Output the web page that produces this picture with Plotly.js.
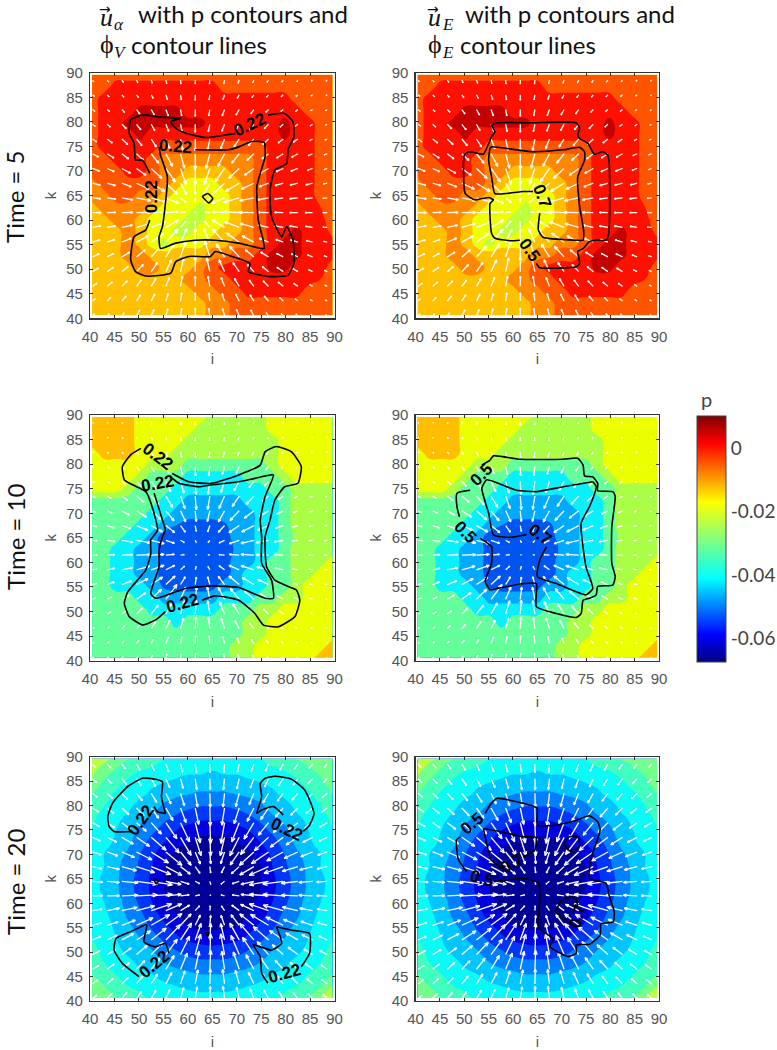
<!DOCTYPE html>
<html>
<head>
<meta charset="utf-8">
<script src="https://cdn.plot.ly/plotly-3.0.1.min.js"></script>
<style>body{margin:0;background:#fff}</style>
</head>
<body>
<div id="chart" style="width:777px;height:1050px"></div>
<script>
// p field, 1/1000 units, rows top to bottom (both columns share it)
var pT5 = [
[-2,-2,-2,-2,-2,-2,-2,-2,-2,-2,-2,-2,-2,-2,-2,-2,-2,-2,-2,-2,-2],
[-2,-2,2,2,2,2,2,2,2,2,2,-2,-2,-2,-2,-2,-2,-2,-2,-2,-2],
[-2,2,2,2,2,2,2,2,2,2,2,2,2,2,2,2,2,-2,-2,-2,-2],
[-2,2,2,2,7,7,7,7,2,2,2,2,2,2,2,2,2,2,-2,-2,-2],
[-2,2,2,7,7,7,7,7,7,7,2,2,2,2,2,2,7,2,2,-2,-2],
[-2,2,2,2,7,2,2,2,2,2,2,2,2,2,2,2,7,2,2,-2,-2],
[-2,2,2,2,2,2,-2,-2,-2,-2,-2,-2,-2,-2,-2,2,2,2,2,-2,-2],
[-2,-2,2,2,2,-2,-7,-7,-7,-7,-7,-7,-7,-7,-2,2,2,2,2,-2,-2],
[-2,-2,-2,2,2,-2,-7,-7,-12,-12,-12,-12,-7,-7,-2,2,2,2,2,-2,-2],
[-7,-2,-2,-2,-2,-2,-7,-12,-17,-17,-17,-12,-12,-7,-2,2,2,2,2,-2,-2],
[-7,-7,-2,-2,-7,-7,-12,-17,-17,-17,-17,-17,-12,-7,-2,2,2,2,2,-2,-2],
[-12,-7,-7,-7,-7,-12,-17,-17,-17,-22,-17,-17,-12,-7,-2,2,2,2,2,0,-2],
[-12,-12,-7,-7,-12,-17,-17,-17,-22,-22,-17,-17,-12,-7,-2,2,2,2,2,1,-2],
[-12,-12,-12,-7,-12,-17,-17,-22,-22,-17,-17,-12,-12,-7,-2,2,2,7,2,2,-1],
[-12,-12,-12,-7,-12,-17,-22,-17,-17,-17,-12,-12,-7,-7,-2,2,7,7,2,2,1],
[-12,-12,-12,-7,-7,-12,-12,-12,-12,-12,-7,-7,-2,-2,2,7,7,7,2,2,1],
[-12,-12,-12,-12,-7,-7,-12,-12,-12,-7,-2,2,2,2,2,7,7,2,2,2,-2],
[-12,-12,-12,-12,-12,-12,-12,-12,-7,-7,-2,-2,2,2,2,2,2,2,2,0,-2],
[-12,-12,-12,-12,-12,-12,-12,-12,-12,-7,-7,-2,-2,2,2,2,2,2,-2,-2,-2],
[-12,-12,-12,-12,-12,-12,-12,-12,-12,-12,-7,-7,-2,-2,-2,-2,-2,-2,-2,-2,-2],
[-12,-12,-12,-12,-12,-12,-12,-12,-12,-12,-7,-7,-2,-2,-2,-2,-2,-2,-2,-2,-2]
];
var pT10 = [
[-14,-14,-14,-14,-20,-20,-20,-20,-20,-20,-26,-26,-26,-26,-26,-20,-20,-20,-20,-20,-20],
[-14,-14,-14,-14,-20,-20,-20,-20,-20,-26,-26,-26,-26,-26,-26,-20,-20,-20,-20,-20,-20],
[-14,-14,-14,-14,-20,-20,-20,-20,-26,-26,-26,-26,-26,-26,-26,-26,-20,-20,-20,-20,-20],
[-20,-14,-14,-14,-20,-20,-20,-26,-26,-26,-26,-26,-26,-26,-26,-26,-20,-20,-20,-20,-20],
[-20,-20,-20,-20,-20,-26,-26,-26,-32,-32,-32,-32,-32,-32,-32,-26,-20,-20,-20,-20,-20],
[-20,-20,-20,-20,-26,-32,-32,-32,-38,-38,-38,-38,-38,-32,-32,-32,-26,-20,-20,-20,-20],
[-20,-20,-20,-26,-32,-32,-32,-38,-38,-38,-38,-38,-38,-38,-38,-32,-32,-26,-26,-26,-26],
[-32,-32,-32,-32,-32,-32,-38,-38,-44,-44,-44,-44,-44,-38,-38,-38,-32,-26,-26,-26,-26],
[-32,-32,-32,-32,-32,-38,-38,-44,-44,-44,-44,-44,-44,-44,-38,-38,-32,-26,-26,-26,-26],
[-32,-32,-32,-32,-38,-38,-44,-47,-50,-50,-50,-48,-44,-44,-38,-38,-32,-26,-26,-26,-26],
[-32,-32,-32,-38,-38,-44,-50,-50,-50,-50,-50,-50,-44,-44,-38,-38,-32,-28,-26,-26,-26],
[-32,-32,-38,-38,-44,-44,-50,-50,-50,-50,-50,-50,-46,-44,-38,-38,-32,-26,-26,-26,-26],
[-32,-32,-38,-38,-44,-44,-50,-50,-50,-50,-50,-50,-44,-44,-38,-32,-32,-26,-26,-26,-20],
[-32,-32,-38,-38,-44,-44,-50,-50,-50,-50,-50,-50,-44,-38,-38,-32,-32,-26,-26,-20,-20],
[-32,-32,-38,-38,-38,-44,-48,-50,-50,-50,-49,-44,-44,-38,-38,-32,-32,-26,-20,-20,-20],
[-32,-32,-32,-32,-38,-38,-44,-44,-44,-44,-44,-38,-38,-38,-32,-32,-26,-26,-20,-20,-20],
[-32,-32,-32,-32,-32,-38,-38,-38,-38,-38,-38,-32,-32,-32,-26,-26,-20,-20,-20,-20,-20],
[-32,-32,-32,-32,-32,-32,-32,-38,-32,-32,-32,-32,-32,-26,-26,-20,-20,-20,-20,-20,-20],
[-32,-32,-32,-32,-32,-32,-32,-32,-32,-32,-32,-32,-32,-26,-26,-20,-20,-20,-20,-20,-20],
[-32,-32,-32,-32,-32,-32,-32,-32,-32,-32,-32,-32,-26,-26,-20,-20,-20,-20,-20,-20,-14],
[-32,-32,-32,-32,-32,-32,-32,-32,-32,-32,-32,-32,-26,-26,-20,-20,-20,-20,-20,-14,-14]
];
var pT20 = [
[-22,-24,-26,-30,-31,-33,-35,-36,-36,-37,-37,-37,-36,-36,-35,-33,-31,-30,-28,-27,-26],
[-24,-27,-31,-33,-35,-36,-37,-38,-39,-39,-40,-39,-39,-38,-37,-36,-35,-33,-31,-29,-27],
[-26,-31,-33,-36,-38,-39,-40,-41,-42,-42,-42,-42,-42,-41,-40,-39,-38,-36,-33,-31,-28],
[-30,-33,-36,-37,-39,-41,-43,-44,-45,-46,-46,-46,-45,-44,-43,-41,-39,-37,-36,-33,-30],
[-32,-35,-37,-39,-42,-43,-46,-48,-49,-50,-50,-50,-49,-48,-46,-43,-42,-39,-37,-35,-32],
[-34,-37,-39,-41,-44,-46,-49,-51,-53,-54,-54,-54,-53,-51,-49,-46,-44,-41,-39,-37,-34],
[-35,-38,-40,-43,-46,-49,-52,-55,-57,-59,-59,-59,-57,-55,-52,-49,-46,-43,-40,-38,-35],
[-36,-38,-41,-44,-48,-52,-55,-59,-60,-61,-61,-61,-60,-59,-55,-52,-48,-44,-41,-38,-36],
[-37,-40,-43,-46,-50,-54,-58,-61,-62,-62,-63,-62,-62,-61,-58,-54,-50,-46,-43,-40,-37],
[-38,-40,-44,-47,-51,-55,-60,-61,-63,-64,-64,-64,-63,-61,-60,-55,-51,-47,-44,-40,-38],
[-38,-41,-44,-48,-52,-56,-60,-62,-63,-64,-65,-64,-63,-62,-60,-56,-52,-48,-44,-41,-38],
[-38,-41,-44,-48,-52,-56,-60,-62,-63,-64,-65,-64,-63,-62,-60,-56,-52,-48,-44,-41,-38],
[-38,-40,-43,-47,-51,-55,-59,-61,-62,-63,-64,-63,-62,-61,-59,-55,-51,-47,-43,-40,-38],
[-37,-39,-42,-46,-49,-53,-57,-60,-61,-62,-62,-62,-61,-60,-57,-53,-49,-46,-42,-39,-37],
[-36,-38,-41,-44,-47,-51,-54,-57,-60,-61,-61,-61,-60,-57,-54,-51,-47,-44,-41,-38,-36],
[-35,-38,-40,-42,-45,-48,-51,-54,-56,-57,-58,-57,-56,-54,-51,-48,-45,-42,-40,-38,-35],
[-34,-36,-39,-41,-43,-45,-48,-50,-52,-53,-53,-53,-52,-50,-48,-45,-43,-41,-39,-36,-34],
[-32,-35,-37,-39,-41,-43,-45,-47,-48,-49,-49,-49,-48,-47,-45,-43,-41,-39,-37,-35,-32],
[-30,-32,-35,-37,-39,-40,-42,-43,-44,-45,-45,-45,-44,-43,-42,-40,-39,-37,-35,-32,-30],
[-27,-30,-33,-35,-36,-38,-39,-40,-41,-41,-41,-41,-41,-40,-39,-38,-36,-35,-33,-30,-25],
[-27,-28,-30,-32,-34,-36,-37,-38,-38,-39,-39,-39,-38,-38,-37,-36,-34,-32,-30,-25,-22]
];

// band edges and colours of the filled contours
var startT5 = -25, sizeT5 = 5;
var bandsT5 = ['rgb(190,255,60)','rgb(240,255,0)','rgb(255,192,0)','rgb(255,136,0)','rgb(255,85,0)','rgb(255,16,0)','rgb(196,0,0)'];
var startT10 = -53, sizeT10 = 6;
var bandsT10 = ['rgb(0,85,240)','rgb(0,170,255)','rgb(10,240,250)','rgb(100,255,155)','rgb(170,255,70)','rgb(235,255,0)','rgb(255,190,0)'];
var startT20 = -65, sizeT20 = 5;
var bandsT20 = ['rgb(0,0,150)','rgb(0,0,225)','rgb(0,54,250)','rgb(0,128,255)','rgb(0,198,255)','rgb(10,250,245)','rgb(64,255,190)','rgb(115,255,140)','rgb(190,255,60)'];

// velocity, tenths of an axis unit, rows top to bottom on the 3-unit arrow grid
var uT5 = [
[3,4,4,3,3,2,1,0,-1,-2,-3,-3,-4,-4,-3,-3,-3],
[5,5,5,5,5,4,2,0,-2,-4,-5,-5,-5,-5,-5,-4,-3],
[6,6,7,8,8,6,3,0,-3,-6,-8,-8,-7,-6,-6,-5,-4],
[7,8,11,11,9,7,4,0,-4,-7,-9,-11,-11,-8,-7,-6,-5],
[10,13,15,14,13,10,6,0,-6,-10,-13,-14,-15,-13,-12,-7,-6],
[15,17,17,18,19,17,10,0,-10,-17,-19,-18,-17,-17,-16,-11,-8],
[18,18,22,24,27,24,14,0,-14,-24,-27,-24,-22,-18,-18,-13,-8],
[20,21,24,32,35,30,16,0,-16,-30,-35,-32,-24,-21,-20,-17,-10],
[21,22,28,36,40,32,14,0,-14,-32,-40,-36,-28,-22,-21,-19,-11],
[21,22,28,36,40,32,12,0,-12,-32,-40,-38,-28,-22,-21,-19,-11],
[21,22,27,35,38,32,14,0,-14,-32,-38,-35,-27,-22,-21,-18,-11],
[19,19,24,30,32,31,16,0,-16,-31,-32,-30,-24,-19,-19,-16,-9],
[17,17,20,22,25,21,13,0,-13,-21,-25,-22,-20,-17,-17,-13,-8],
[15,16,16,17,16,14,8,0,-8,-14,-16,-17,-16,-16,-15,-10,-7],
[11,13,14,12,12,9,5,0,-5,-9,-12,-12,-14,-13,-11,-7,-6],
[7,9,11,10,9,6,3,0,-3,-6,-9,-10,-11,-9,-7,-6,-5],
[5,5,6,8,7,5,3,0,-3,-5,-7,-8,-6,-5,-5,-4,-4]
];
var vT5 = [
[-4,-5,-6,-7,-8,-9,-10,-10,-10,-9,-8,-7,-6,-5,-4,-3,-3],
[-4,-5,-6,-7,-9,-12,-13,-14,-13,-12,-9,-7,-6,-5,-4,-3,-2],
[-5,-5,-7,-11,-14,-16,-16,-17,-16,-16,-14,-11,-7,-5,-5,-3,-3],
[-5,-7,-11,-14,-16,-18,-19,-20,-19,-18,-16,-14,-11,-7,-5,-4,-3],
[-7,-10,-14,-17,-20,-25,-29,-30,-29,-25,-20,-17,-14,-10,-8,-4,-3],
[-8,-11,-13,-17,-24,-32,-37,-39,-37,-32,-24,-17,-13,-11,-9,-5,-3],
[-7,-8,-12,-17,-25,-34,-40,-42,-40,-34,-25,-17,-12,-8,-7,-5,-3],
[-5,-6,-9,-15,-21,-28,-29,-28,-29,-28,-21,-15,-9,-6,-5,-4,-2],
[-2,-3,-5,-7,-11,-13,-11,-10,-11,-13,-11,-7,-5,-3,-2,-2,-1],
[0,1,1,1,2,2,2,2,2,2,2,1,1,1,0,0,0],
[4,4,6,10,15,19,16,15,16,19,15,10,6,4,4,3,1],
[6,7,10,16,23,33,34,34,34,33,23,16,10,7,6,4,2],
[8,9,12,18,27,33,40,42,40,33,27,18,12,9,8,5,3],
[9,11,13,18,23,30,35,38,35,30,23,18,13,11,9,5,3],
[8,11,14,16,20,23,26,26,26,23,20,16,14,11,8,5,3],
[6,9,13,16,18,19,21,21,21,19,18,16,13,9,6,4,3],
[5,6,8,15,16,18,19,20,19,18,16,15,8,6,5,4,3]
];
var uT10 = [
[2,2,2,2,2,1,1,0,-1,-1,-2,-2,-2,-2,-2,-1,-1],
[2,2,3,3,3,2,2,0,-1,-2,-3,-3,-3,-2,-2,-2,-2],
[3,3,4,5,5,4,3,1,-2,-4,-4,-5,-5,-4,-3,-3,-2],
[4,6,6,7,8,8,5,1,-3,-6,-8,-8,-7,-6,-5,-3,-3],
[5,7,10,13,14,13,9,2,-5,-10,-14,-13,-11,-9,-7,-5,-3],
[7,10,16,20,21,18,12,3,-6,-15,-19,-21,-17,-13,-9,-7,-4],
[9,13,20,27,28,22,14,3,-7,-17,-25,-26,-25,-18,-12,-8,-5],
[11,19,24,31,31,24,13,3,-6,-17,-28,-33,-29,-21,-14,-9,-7],
[12,20,30,38,35,23,10,3,-5,-15,-27,-35,-34,-24,-16,-10,-8],
[12,20,30,38,35,23,10,3,-5,-15,-27,-35,-34,-24,-16,-10,-8],
[11,20,29,36,35,24,11,3,-5,-15,-28,-35,-32,-23,-15,-10,-7],
[11,19,26,31,31,25,13,3,-6,-17,-28,-32,-29,-20,-12,-9,-6],
[9,12,19,25,28,30,14,4,-7,-17,-24,-26,-22,-17,-11,-8,-5],
[7,10,12,16,19,17,11,3,-6,-14,-18,-19,-15,-10,-8,-6,-4],
[5,6,8,10,12,11,8,2,-4,-9,-12,-12,-9,-8,-6,-5,-3],
[4,5,5,6,6,7,4,1,-2,-5,-6,-7,-6,-5,-4,-3,-2],
[3,3,4,4,4,3,2,1,-1,-3,-4,-4,-4,-3,-3,-2,-2]
];
var vT10 = [
[-2,-2,-3,-4,-5,-5,-6,-7,-7,-6,-5,-4,-3,-3,-2,-2,-1],
[-2,-3,-4,-5,-7,-8,-9,-10,-10,-9,-8,-6,-5,-3,-3,-2,-1],
[-2,-4,-5,-7,-10,-12,-14,-15,-15,-14,-11,-9,-7,-5,-3,-2,-2],
[-3,-5,-7,-10,-14,-19,-22,-25,-25,-21,-18,-12,-9,-6,-4,-3,-2],
[-3,-5,-9,-14,-20,-28,-32,-35,-35,-30,-25,-17,-12,-7,-5,-3,-2],
[-4,-6,-12,-17,-24,-30,-34,-37,-36,-34,-28,-22,-14,-9,-5,-3,-2],
[-4,-6,-11,-17,-24,-27,-30,-29,-29,-30,-26,-20,-15,-9,-5,-3,-2],
[-3,-6,-8,-13,-17,-19,-18,-16,-17,-18,-19,-17,-12,-7,-4,-2,-1],
[-1,-3,-5,-7,-9,-8,-6,-6,-6,-7,-9,-8,-6,-4,-2,-1,-1],
[0,1,1,1,2,2,1,1,1,1,2,2,1,1,0,0,0],
[2,4,6,10,12,12,10,9,9,11,12,11,8,5,3,2,1],
[3,7,10,16,20,23,21,20,21,22,23,19,14,8,4,2,1],
[4,6,11,18,27,40,33,33,33,32,29,23,15,10,5,3,2],
[4,6,9,16,24,30,36,38,36,34,29,21,14,8,5,3,2],
[3,5,8,12,19,23,29,32,32,29,23,16,10,7,5,3,2],
[3,5,6,9,11,18,19,21,21,19,15,11,8,6,4,2,2],
[3,4,5,6,8,11,11,13,13,12,10,8,6,4,3,2,2]
];
var uT20 = [
[7,9,9,9,8,7,5,3,0,-2,-5,-7,-8,-9,-9,-9,-8],
[10,12,12,12,11,10,7,4,1,-3,-6,-9,-10,-12,-12,-12,-10],
[12,14,15,15,14,13,10,6,1,-4,-9,-12,-14,-15,-15,-14,-13],
[15,17,18,19,19,18,14,9,1,-7,-13,-17,-20,-20,-18,-17,-15],
[18,19,22,25,26,28,23,13,2,-9,-19,-25,-26,-25,-24,-20,-19],
[20,24,29,33,38,34,27,15,2,-11,-24,-34,-36,-33,-30,-25,-21],
[22,27,32,39,44,41,27,13,2,-10,-23,-37,-44,-42,-35,-30,-24],
[24,31,37,46,50,41,25,12,2,-8,-20,-36,-49,-49,-40,-33,-26],
[26,31,41,53,54,39,22,11,2,-9,-18,-33,-49,-52,-42,-35,-27],
[26,31,41,53,54,39,22,11,2,-9,-18,-33,-49,-52,-42,-35,-27],
[24,31,39,46,52,40,23,11,1,-8,-19,-34,-49,-51,-40,-33,-26],
[23,28,34,42,47,41,27,13,2,-9,-21,-36,-46,-44,-37,-30,-25],
[21,25,30,36,38,37,28,15,2,-10,-24,-36,-39,-35,-31,-27,-22],
[19,22,24,27,30,29,23,14,2,-10,-21,-29,-29,-28,-25,-22,-19],
[16,18,19,21,22,21,17,10,2,-7,-15,-20,-21,-21,-20,-18,-16],
[14,15,16,16,16,15,11,7,1,-5,-10,-14,-16,-15,-17,-15,-14],
[11,12,13,12,12,10,8,5,1,-4,-7,-10,-12,-12,-12,-12,-11]
];
var vT20 = [
[-8,-10,-12,-16,-17,-20,-21,-22,-22,-22,-21,-20,-18,-16,-13,-11,-9],
[-10,-13,-15,-18,-20,-23,-25,-28,-28,-28,-26,-24,-21,-18,-16,-13,-10],
[-10,-13,-16,-19,-23,-27,-32,-35,-36,-35,-34,-29,-24,-20,-17,-14,-11],
[-10,-14,-17,-20,-26,-32,-37,-42,-46,-44,-40,-34,-29,-23,-18,-14,-11],
[-10,-13,-17,-22,-29,-41,-49,-52,-53,-53,-49,-42,-32,-25,-19,-14,-11],
[-9,-12,-17,-23,-33,-40,-46,-47,-47,-47,-47,-44,-34,-25,-19,-13,-10],
[-7,-10,-14,-20,-28,-34,-34,-31,-30,-30,-33,-34,-30,-23,-16,-12,-8],
[-5,-7,-10,-15,-20,-22,-19,-17,-16,-16,-18,-21,-22,-17,-12,-8,-6],
[-2,-3,-4,-7,-9,-8,-7,-6,-8,-7,-6,-8,-9,-7,-5,-3,-2],
[1,1,2,3,4,4,3,3,3,3,3,4,4,4,2,2,1],
[4,6,8,12,17,17,14,12,12,12,14,16,17,14,9,6,4],
[7,9,13,19,27,30,29,26,25,25,27,29,28,21,15,10,7],
[9,12,16,23,30,39,43,42,42,42,43,42,34,24,18,13,10],
[10,13,17,23,31,39,47,52,53,53,49,44,33,25,19,14,10],
[10,14,17,22,28,35,41,46,48,46,44,37,30,23,18,14,11],
[11,14,16,20,25,29,33,36,38,37,35,30,26,20,18,14,11],
[9,13,16,18,21,24,28,30,31,31,29,25,22,19,15,13,11]
];

// phi contour lines in (i, k)
var phiVT5 = [
[[58.5,80.7],[56.5,80],[57.5,78.7],[59.5,77.7],[63.6,76.8],[67.6,77.3],[69.7,77.6]],
[[76.4,81.4],[79.8,81.7],[81.5,80],[81.7,77],[80.5,74.3],[80.2,71.5],[77.8,70.2],[76.8,66.1],[77.1,60.7],[79.2,56.6],[80.2,58.7],[81.5,55.9],[81.7,51.2],[80.5,48.8],[76.4,48.5],[72.4,49.5],[72.7,51.2],[69,52.6],[65.6,53.6],[64.6,52.6],[60.2,52.6],[57.5,51.5],[56.5,49.2],[51.4,48.6],[49.3,49.5],[48.3,51.9],[49,56.6],[51.4,58],[52.2,60]],
[[52.2,69.5],[50.7,72.2],[49.3,72.2],[49,75.6],[48,77.7],[48.3,80.4],[50.7,81.4],[54.1,81],[58.5,80.7]],
[[61.5,74.3],[68.3,74.3],[70.4,74.9],[73.1,76],[75.6,75.8],[75.8,72.9],[74.8,69.5],[74.1,66.8],[74.4,60],[75.4,55.9],[75.6,54.2],[70.4,55.3],[65.6,55.9],[61.5,55.9],[57.5,55.3],[54.4,54.2],[54.1,56.6],[54.8,58.7],[55.8,68.8],[54.4,73.2],[54.1,74.9]],
[[63,64.8],[64.1,65.4],[65.1,64.4],[64.3,63.5],[63,64.8]]
];
var phiET5 = [
[[55.6,77],[56.3,78],[55.6,79.3],[56.7,79.8],[64.1,79.8],[73,79.8],[73.7,78.7],[73.3,77.3],[73.7,76.6],[75.4,75.6],[76.7,73.4],[78.4,73.9],[79.5,73.2],[79.8,70.9],[79.7,57.3],[79.1,55.9],[77.1,55.9],[75.7,55.6],[74.4,54.2],[73.3,53.6],[73.7,51.2],[73,50.5],[65.5,50.3],[64.8,51.2]],
[[61.4,55.9],[59.4,55.8],[56.3,56.3],[55.6,57.3],[55.3,63.4],[56,64.1],[55,64.6],[52.2,64.1],[50.2,65.4],[50,73.2],[50.9,73.9],[52.6,73.6],[53.9,73.4],[55.6,77]],
[[65.5,61.4],[65.2,58],[66.2,56.5],[73,55.9],[74.4,55.9],[74.5,58],[73.7,62.7],[73.3,68.8],[74.7,72.2],[74.7,73.9],[73.7,74.8],[70.3,74.3],[64.1,73.9],[55.6,74.9],[55.3,74.6],[55,72.2],[55.6,68.8],[56.3,65.4],[62.1,65.8],[64.1,65.8]]
];
var phiVT10 = [
[[50.4,83.2],[48.3,81.9],[46.6,79.5],[47,76.8],[48.7,75.8],[51.4,74.4],[52.7,71.3],[53.8,66.6],[52.4,64.6],[52.4,61.8],[51.4,58.5],[47.7,54],[47,51.7],[48,49],[50.7,47.3],[53.4,48.3],[55.4,50]],
[[62.9,52.3],[65.6,53.2],[70.4,52.3],[73.7,49.6],[75.4,47.3],[78.5,46.9],[81.9,49],[82.9,52.3],[82.2,54.4],[80.5,55.1],[77.8,56.4],[76.1,59.1],[75.8,65.2],[76.8,68.6],[77.8,72.7],[79.8,75.4],[82.5,76.1],[83.2,79.5],[81.2,82.5],[78.1,83.6],[75.8,82.5],[74.8,79.8],[70.4,77.8],[64.9,76.1],[60.2,76.4],[56.8,78.1]],
[[56.8,77.1],[58.2,76.1],[62.2,75.4],[64.9,75.8],[70.4,76.4],[73.7,77.1],[77.5,77.8],[75.8,73.4],[74.8,68.6],[75.1,65.2],[75.1,59.8],[77.1,56.4],[77.5,52.7],[75.8,52.7],[70.4,54.9],[64.9,55.2],[59.5,54.7],[53.4,52.7],[52.4,53.7],[54.1,59.1],[54.1,62.5],[54.8,65.2],[55.4,66.6],[54.8,68.6],[53.1,74.1]]
];
var phiET10 = [
[[55.3,80.8],[56,81.7],[61.4,81],[70.3,81],[73.3,81.2],[74.4,79.8],[74.7,77.6],[76.4,77.4],[77.4,76.1],[77.4,74.6],[80.5,74.4],[81,73.4],[80.3,67.3],[80.3,59.8],[81,57.1],[80.5,55.4],[77.4,55.1],[77.1,53.4],[75.7,52.7],[74.4,52.3],[74,49.6],[73,48.8],[68.9,49.6],[64.8,51],[64.8,55.7],[62.1,55.7],[59.4,55.2],[56.7,54.7],[55.3,54.4],[54.3,56.1],[55.6,59.8],[55.6,63.2],[53.3,64.9]],
[[49,69.3],[48.5,71.3],[48.5,74.1],[51.2,74.7]],
[[53.6,79.8],[55.3,80.8]],
[[76.4,76.4],[70.3,75.4],[64.8,74.4],[60.7,74.7],[54.6,76.8],[53.6,75.1],[55,70],[56,65.6],[59.4,65.1],[62.8,65.7]],
[[66.9,63.2],[65.5,60.5],[65,57.1],[68.9,55.7],[75,53.4],[76.4,54.7],[75,59.1],[74,68],[75.7,71.3],[77.1,75.4],[76.4,76.4]]
];
var phiVT20 = [
[[55.4,78.4],[53.8,78.7],[53.1,79.8]],
[[48.7,74.7],[44.9,74.7],[43.9,75.7],[43.6,77.7],[44.6,80.5],[47.7,83.9],[50.7,85.6],[53.4,85.4],[54.8,84.9],[54.6,81.8],[55.4,78.4]],
[[79.5,78.1],[77.5,79.8],[75.1,79.1],[74.1,78.4],[75.1,81.8],[74.8,84.5],[75.8,85.6],[77.8,86],[81.2,85.4],[83.9,83.2],[85.8,78.4],[84.9,76],[83.6,74.7]],
[[56.1,49.8],[55.4,51.8],[53.4,51.1],[51,52.1],[51.6,55.6],[48.3,54.2],[45.3,52.8],[44.9,50.4],[46.6,47.7],[50,45]],
[[78.1,55.2],[81.2,54.5],[84.9,53.8],[84.9,49.8],[83.2,47]],
[[76.4,43.6],[75.1,45.7],[74.8,49.1],[73.4,51.5],[77.1,50.4],[79.2,51.8],[78.1,55.2]],
[[53,65],[54,64.6],[53.5,64],[53,65]],
[[63.5,53.9],[64.3,54],[64.1,53.4],[63.5,53.9]]
];
var phiET20 = [
[[49.2,73.6],[48.4,73],[48.8,68.9],[50.5,66.5]],
[[56,64.4],[62.1,65.1],[65.3,64.1],[65.5,60.7],[65.2,55.6],[66.2,54.2],[68.2,52.8],[67.6,51.1],[71.3,49.1],[73,49.8],[73,51.5],[75.7,51.6],[77.9,53.5],[78.1,55.8],[80.6,56.2],[80.8,58.3],[79.8,61.4],[79.1,64.1],[75.7,65.1],[76.1,69.5],[77.1,72.3],[77.9,75],[77.4,76.7],[75.7,77.9],[73,77],[68.9,76],[65,76],[65,79.4],[64.1,79.9],[59.4,81.1],[56.7,81.5],[55.3,80.1],[54.3,78.4]],
[[53.9,75.3],[57.3,74.7],[62.1,73.6],[64.7,73.5],[64.5,70.9],[62.1,69.5]],
[[58.3,66.8],[55.5,68.9],[54.3,73.6],[53.9,75.3]],
[[70.6,72.3],[71.6,73.6],[73.3,73.6],[73.7,71.9],[72.3,70.5],[71,71.2],[70.6,72.3]],
[[73.3,59.4],[73,60.7],[72.3,61.4],[69.9,60.5],[68.9,58.3],[71,56.4],[73,55]]
];

// contour labels: text, i, k, angle
var labelsVT5 = [['0.22',72.7,79.5,-25],['0.22',57.5,75,5],['0.22',52.6,64.8,-90]];
var labelsET5 = [['0.7',66,64.8,70],['0.5',63.5,53.9,55]];
var labelsVT10 = [['0.22',53.8,81.5,37],['0.22',53.8,76.1,-10],['0.22',58.8,51.7,-15]];
var labelsET10 = [['0.5',53.6,77.8,-45],['0.5',50.2,66,45],['0.7',65.5,65.6,35]];
var labelsVT20 = [['0.22',50.3,77,-55],['0.22',80.2,75,25],['0.22',53.1,47.4,-40],['0.22',79.8,45.6,-15]];
var labelsET20 = [['0.5',51.6,76.4,-40],['0.5',53.6,65.1,15],['0.7',59.7,68.2,-30],['0.7',73.3,57.3,-75]];

var tickVals = [0,-0.02,-0.04,-0.06];
var tickText = ['0','-0.02','-0.04','-0.06'];

var jet = [[0,'rgb(0,0,128)'],[0.11,'rgb(0,0,255)'],[0.34,'rgb(0,255,255)'],[0.65,'rgb(255,255,0)'],[0.89,'rgb(255,0,0)'],[1,'rgb(128,0,0)']];

var W = 777, H = 1050;
var colX = [[90.7,336.7],[418.3,663.3]];
var rowY = [[72.7,318.3],[415,660.7],[756.7,1001]];

function stepScale(bands) {
  var out = [];
  for (var b = 0; b < bands.length; b++) {
    out.push([b / bands.length, bands[b]]);
    out.push([(b + 1) / bands.length, bands[b]]);
  }
  return out;
}

function quiver(u, v, scale) {
  var xs = [], ys = [];
  for (var r = 0; r < u.length; r++) {
    var k = 88.5 - 3 * r;
    for (var c = 0; c < u[r].length; c++) {
      var i = 40.5 + 3 * c;
      var dx = scale * u[r][c] / 10, dy = scale * v[r][c] / 10;
      var tx = i + dx, ty = k + dy;
      // shaft, then a small head
      xs.push(i, tx, null, tx - 0.22 * dx + 0.09 * dy, tx, tx - 0.22 * dx - 0.09 * dy, null);
      ys.push(k, ty, null, ty - 0.22 * dy - 0.09 * dx, ty, ty - 0.22 * dy + 0.09 * dx, null);
    }
  }
  return {x: xs, y: ys};
}

function joinLines(lines) {
  var xs = [], ys = [];
  lines.forEach(function (line) {
    line.forEach(function (pt) { xs.push(pt[0]); ys.push(pt[1]); });
    xs.push(null); ys.push(null);
  });
  return {x: xs, y: ys};
}

var panels = [
  {row:0, col:0, p:pT5, start:startT5, size:sizeT5, bands:bandsT5, u:uT5, v:vT5, scale:0.8, phi:phiVT5, labels:labelsVT5},
  {row:0, col:1, p:pT5, start:startT5, size:sizeT5, bands:bandsT5, u:uT5, v:vT5, scale:0.8, phi:phiET5, labels:labelsET5},
  {row:1, col:0, p:pT10, start:startT10, size:sizeT10, bands:bandsT10, u:uT10, v:vT10, scale:0.75, phi:phiVT10, labels:labelsVT10},
  {row:1, col:1, p:pT10, start:startT10, size:sizeT10, bands:bandsT10, u:uT10, v:vT10, scale:0.75, phi:phiET10, labels:labelsET10},
  {row:2, col:0, p:pT20, start:startT20, size:sizeT20, bands:bandsT20, u:uT20, v:vT20, scale:0.8, phi:phiVT20, labels:labelsVT20},
  {row:2, col:1, p:pT20, start:startT20, size:sizeT20, bands:bandsT20, u:uT20, v:vT20, scale:0.8, phi:phiET20, labels:labelsET20}
];

var data = [], annotations = [];
var layout = {
  width: W, height: H,
  margin: {l:0, r:0, t:0, b:0},
  paper_bgcolor: '#fff', plot_bgcolor: '#fff',
  showlegend: false,
  font: {family: '"Liberation Sans", Arial, sans-serif'}
};

panels.forEach(function (pn, n) {
  var id = n === 0 ? '' : String(n + 1);
  var xa = 'x' + id, ya = 'y' + id;
  var end = pn.start + pn.size * pn.bands.length;
  data.push({
    type: 'contour', xaxis: xa, yaxis: ya,
    z: pn.p.slice().reverse(), x0: 40.4, dx: 2.46, y0: 40.6, dy: 2.45,
    zmin: pn.start, zmax: end, colorscale: stepScale(pn.bands), showscale: false,
    autocontour: false,
    contours: {start: pn.start, end: end, size: pn.size, coloring: 'fill', showlines: false},
    line: {width: 0, smoothing: 1.3},
    hoverinfo: 'skip'
  });
  var q = quiver(pn.u, pn.v, pn.scale);
  data.push({type:'scatter', mode:'lines', xaxis:xa, yaxis:ya, x:q.x, y:q.y,
    line:{color:'#fff', width:1.3}, hoverinfo:'skip'});
  var ph = joinLines(pn.phi);
  data.push({type:'scatter', mode:'lines', xaxis:xa, yaxis:ya, x:ph.x, y:ph.y,
    line:{color:'#000', width:1.6, shape:'spline', smoothing:0.5}, hoverinfo:'skip'});
  pn.labels.forEach(function (lb) {
    annotations.push({xref:xa, yref:ya, x:lb[1], y:lb[2], text:'<b>' + lb[0] + '</b>', textangle:lb[3],
      showarrow:false, font:{size:17, color:'#000'}});
  });
  var axis = {
    range:[40,90], tickvals:[40,45,50,55,60,65,70,75,80,85,90], ticks:'inside', ticklen:3, tickcolor:'#333',
    showline:true, mirror:'allticks', linecolor:'#333', linewidth:1.2, showgrid:false, zeroline:false,
    tickfont:{size:15, color:'#555'}, fixedrange:true
  };
  layout['xaxis' + id] = Object.assign({}, axis, {
    anchor: ya, domain: [colX[pn.col][0] / W, colX[pn.col][1] / W], ticklabelstandoff: 4,
    title: {text:'i', font:{size:15, color:'#555'}, standoff:10}
  });
  layout['yaxis' + id] = Object.assign({}, axis, {
    anchor: xa, domain: [1 - rowY[pn.row][1] / H, 1 - rowY[pn.row][0] / H], ticklabelstandoff: 3,
    title: {text:'k', font:{size:15, color:'#555'}, standoff:6}
  });
});

// continuous colour bar
data.push({
  type:'scatter', mode:'markers', x:[65,65], y:[65,65], hoverinfo:'skip',
  marker:{size:1, opacity:0, color:[-0.0673,0.0102], cmin:-0.0673, cmax:0.0102, colorscale:jet, showscale:true,
    colorbar:{
      x:702/W, xanchor:'left', xpad:0, ypad:0, y:1-538.7/H, yanchor:'middle',
      thickness:29, thicknessmode:'pixels', len:246, lenmode:'pixels',
      tickmode:'array', tickvals:tickVals, ticktext:tickText, ticks:'outside', ticklen:1, tickcolor:'rgba(0,0,0,0)',
      tickfont:{family:'Lato, sans-serif', size:19, color:'#444'}, outlinecolor:'#444', outlinewidth:1
    }}
});

function paperText(x, y, text, font, extra) {
  annotations.push(Object.assign({xref:'paper', yref:'paper', x:x/W, y:1-y/H, text:text, showarrow:false, font:font,
    xanchor:'left', yanchor:'middle'}, extra || {}));
}
var capFont = {family:'Lato, sans-serif', size:24, color:'#111'};
var mathFont = {family:'"Liberation Serif", serif', size:26, color:'#111'};
var subFont = {family:'"Liberation Serif", serif', size:17, color:'#111'};
var arrowFont = {family:'"DejaVu Sans", sans-serif', size:14, color:'#111'};
// math parts of the two headers
[[99,'α','V'],[429,'E','E']].forEach(function (c) {
  paperText(c[0], 17, '<i>u</i>', mathFont);
  paperText(c[0] - 1, 9, '→', arrowFont);
  paperText(c[0] + 14, 24, '<i>' + c[1] + '</i>', subFont);
  paperText(c[0], 45, 'ϕ', mathFont);
  paperText(c[0] + 14, 53, '<i>' + c[2] + '</i>', subFont);
});
paperText(137, 14, 'with p contours and', capFont);
paperText(130, 45, 'contour lines', capFont);
paperText(466, 14, 'with p contours and', capFont);
paperText(461, 45, 'contour lines', capFont);
paperText(15, 197, 'Time = 5', capFont, {textangle:-90, xanchor:'center'});
paperText(15, 537, 'Time = 10', capFont, {textangle:-90, xanchor:'center'});
paperText(15, 882, 'Time = 20', capFont, {textangle:-90, xanchor:'center'});
paperText(711, 399, 'p', {family:'Lato, sans-serif', size:20, color:'#444'}, {xanchor:'center'});

layout.annotations = annotations;
Plotly.newPlot('chart', data, layout, {displayModeBar:false, staticPlot:true});
</script>
</body>
</html>
